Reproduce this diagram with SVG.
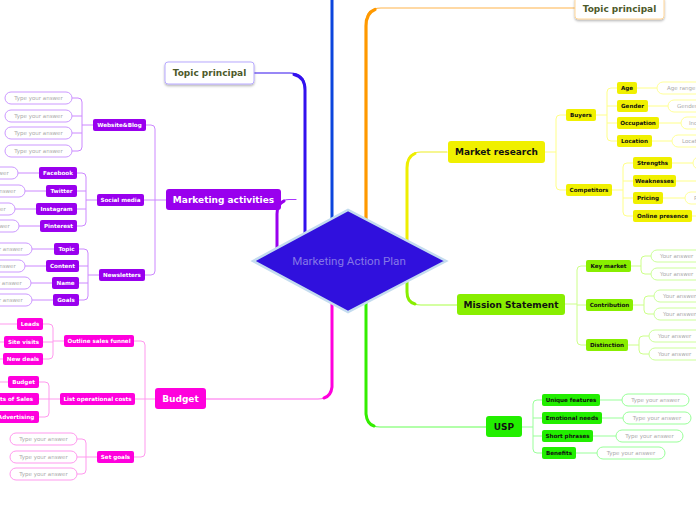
<svg xmlns="http://www.w3.org/2000/svg" width="696" height="520" viewBox="0 0 696 520">
<defs>
<filter id="sh" x="-20%" y="-30%" width="140%" height="170%"><feDropShadow dx="0" dy="1.5" stdDeviation="1" flood-color="#000" flood-opacity="0.3"/></filter>
<style>
.t1{font-family:"DejaVu Sans",Verdana,sans-serif;font-weight:bold;font-size:9px;text-anchor:middle}
.t2{font-family:"DejaVu Sans",Verdana,sans-serif;font-weight:bold;font-size:5.6px;text-anchor:middle}
.ta{font-family:"DejaVu Sans",Verdana,sans-serif;font-size:5.5px;fill:#aaaaaa;text-anchor:middle}
.ts{font-family:"DejaVu Sans",Verdana,sans-serif;font-size:5.5px;fill:#aaaaaa}
.w{fill:#ffffff}.k{fill:#111111}
.pu{fill:#9900ee}.mg{fill:#ff00dd}.ye{fill:#f0f000}.li{fill:#88ee00}.gr{fill:#22ee00}
.apu{fill:#fff;stroke:#cc99ff;stroke-width:1}
.amg{fill:#fff;stroke:#ff99ee;stroke-width:1}
.aye{fill:#fff;stroke:#ffff99;stroke-width:1}
.ali{fill:#fff;stroke:#ccff99;stroke-width:1}
.agr{fill:#fff;stroke:#99ff99;stroke-width:1}
.l{fill:none;stroke-width:1}
.lpu{stroke:#cc88ff}.lmg{stroke:#ff99ee}.lye{stroke:#ffff88}.lli{stroke:#ccff88}.lgr{stroke:#99ff99}
.m{fill:none;stroke-linecap:round}
</style>
</defs>
<rect width="696" height="520" fill="#ffffff"/>
<g id="connectors">
<!-- main branches -->
<path class="m" d="M254 73 H290 Q305 73 305 88 V236" stroke="#3311ee" stroke-width="1.2"/>
<path class="m" d="M294 74.5 Q305 77 305 90 V236" stroke="#3311ee" stroke-width="3"/>
<path class="m" d="M332 0 V222" stroke="#0b45dd" stroke-width="3"/>
<path class="m" d="M575 8 H381 Q366 8 366 23 V222" stroke="#ffb44a" stroke-width="1.2"/>
<path class="m" d="M375 9.5 Q366 13 366 26 V222" stroke="#ff9900" stroke-width="3.2"/>
<path class="m" d="M447 152 H421 Q407 152 407 166 V243" stroke="#eeee22" stroke-width="1.2"/>
<path class="m" d="M415 153.5 Q407 157 407 168 V243" stroke="#eeee00" stroke-width="3"/>
<path class="m" d="M407 279 V291 Q407 305 421 305 H457" stroke="#aaff44" stroke-width="1.2"/>
<path class="m" d="M407 279 V292 Q407 302 415 304" stroke="#88ee00" stroke-width="3"/>
<path class="m" d="M332 300 V385 Q332 399 318 399 H206" stroke="#ff66ee" stroke-width="1.2"/>
<path class="m" d="M332 300 V387 Q331 396 324 398" stroke="#ff00dd" stroke-width="3"/>
<path class="m" d="M366 300 V413 Q366 427 380 427 H486" stroke="#66ff55" stroke-width="1.2"/>
<path class="m" d="M366 300 V414 Q367 424 374 426" stroke="#33ee00" stroke-width="3"/>
<path class="m" d="M296 199.5 H289 Q277 200 277 213 V250" stroke="#aa33ff" stroke-width="1.2"/>
<path class="m" d="M284 201 Q277 204 277 214 V250" stroke="#9900ee" stroke-width="3"/>
<!-- purple -->
<path class="l lpu" d="M146 125 H151 Q155 125 155 129 V271 Q155 275 151 275 H145 M144 200 H166"/>
<path class="l lpu" d="M72 98 H78 Q82 98 82 102 V147 Q82 151 78 151 H72 M72 116 H82 M72 133 H82 M82 125 H93"/>
<path class="l lpu" d="M77 173 H82 Q86 173 86 177 V222 Q86 226 82 226 H77 M77 191 H86 M77 209 H86 M86 200 H97"/>
<path class="l lpu" d="M18 173 H39 M25 191 H46 M15 209 H36 M19 226 H40"/>
<path class="l lpu" d="M79 249 H84 Q88 249 88 253 V296 Q88 300 84 300 H79 M79 266 H88 M79 283 H88 M88 275 H99"/>
<path class="l lpu" d="M32 249 H54 M25 266 H46 M31 283 H52 M32 300 H53"/>
<!-- magenta -->
<path class="l lmg" d="M134 341 H141 Q145 341 145 345 V453 Q145 457 141 457 H134 M135 399 H155"/>
<path class="l lmg" d="M43 324 H49 Q53 324 53 328 V355 Q53 359 49 359 H43 M43 342 H53 M53 341 H64 M0 324 H17 M0 342 H4 M0 359 H3"/>
<path class="l lmg" d="M39 382 H45 Q49 382 49 386 V413 Q49 417 45 417 H39 M39 399 H60 M0 382 H8"/>
<path class="l lmg" d="M77 439 H82 Q86 439 86 443 V470 Q86 474 82 474 H77 M77 457 H97"/>
<!-- yellow -->
<path class="l lye" d="M545 152 H556 M566 115 H560 Q556 115 556 119 V186 Q556 190 560 190 H566"/>
<path class="l lye" d="M596 115 H607 M617 88 H611 Q607 88 607 92 V137 Q607 141 611 141 H617 M607 106 H617 M607 123 H617"/>
<path class="l lye" d="M637 88 H657 M648 106 H668 M659 123 H681 M652 141 H672"/>
<path class="l lye" d="M612 190 H623 M633 163 H627 Q623 163 623 167 V212 Q623 216 627 216 H633 M623 181 H633 M623 198 H633"/>
<path class="l lye" d="M672 163 H693 M676 181 H696 M663 198 H685 M692 216 H696"/>
<!-- lime -->
<path class="l lli" d="M565 304 H577 M586 266 H581 Q577 266 577 270 V341 Q577 345 581 345 H586 M577 305 H586"/>
<path class="l lli" d="M631 266 H641 M651 256 H645 Q641 256 641 260 V270 Q641 274 645 274 H651"/>
<path class="l lli" d="M633 305 H644 M654 296 H648 Q644 296 644 300 V310 Q644 314 648 314 H654"/>
<path class="l lli" d="M628 345 H639 M649 336 H643 Q639 336 639 340 V350 Q639 354 643 354 H649"/>
<!-- green -->
<path class="l lgr" d="M522 427 H533 M542 400 H537 Q533 400 533 404 V449 Q533 453 537 453 H542 M533 418 H542 M533 436 H542"/>
<path class="l lgr" d="M600 400 H622 M602 418 H623 M593 436 H616 M576 453 H597"/>
</g>

<g id="center">
<polygon points="253,261 348,210 446,261 348,312" fill="#3010dd" stroke="#c4dcef" stroke-width="2.5"/>
<text x="349" y="265" font-family="Roboto,'Noto Sans',sans-serif" font-size="11.6" fill="#8577e6" text-anchor="middle">Marketing Action Plan</text>
</g>

<g id="topic-left">
<rect x="165" y="62" width="89" height="22" rx="3" fill="#fff" stroke="#b8aaff" filter="url(#sh)"/>
<text class="t1" x="209.5" y="76.2" fill="#4d5a2a">Topic principal</text>
</g>
<g id="topic-right">
<rect x="575" y="-3" width="89" height="22" rx="3" fill="#fff" stroke="#ffd699" filter="url(#sh)"/>
<text class="t1" x="619.5" y="11.5" fill="#4d5a2a">Topic principal</text>
</g>

<!-- Marketing activities -->
<g id="marketing-activities">
<rect class="pu" x="166" y="189" width="115" height="21" rx="3"/>
<text class="t1 w" x="223.5" y="202.7">Marketing activities</text>
</g>
<g id="website-blog">
<rect class="pu" x="93" y="119" width="53" height="12" rx="2"/><text class="t2 w" x="119.5" y="127">Website&amp;Blog</text>
<rect class="apu" x="5" y="92" width="67" height="12" rx="6"/><text class="ta" x="38.5" y="100">Type your answer</text>
<rect class="apu" x="5" y="110" width="67" height="12" rx="6"/><text class="ta" x="38.5" y="118">Type your answer</text>
<rect class="apu" x="5" y="127" width="67" height="12" rx="6"/><text class="ta" x="38.5" y="135">Type your answer</text>
<rect class="apu" x="5" y="145" width="67" height="12" rx="6"/><text class="ta" x="38.5" y="153">Type your answer</text>
</g>
<g id="social-media">
<rect class="pu" x="97" y="194" width="47" height="12" rx="2"/><text class="t2 w" x="120.5" y="202">Social media</text>
<rect class="pu" x="39" y="167" width="38" height="12" rx="2"/><text class="t2 w" x="58" y="175">Facebook</text>
<rect class="pu" x="46" y="185" width="31" height="12" rx="2"/><text class="t2 w" x="61.5" y="193">Twitter</text>
<rect class="pu" x="36" y="203" width="41" height="12" rx="2"/><text class="t2 w" x="56.5" y="211">Instagram</text>
<rect class="pu" x="40" y="220" width="37" height="12" rx="2"/><text class="t2 w" x="58.5" y="228">Pinterest</text>
<rect class="apu" x="-49" y="167" width="67" height="12" rx="6"/><text class="ta" x="-15.5" y="175">Type your answer</text>
<rect class="apu" x="-42" y="185" width="67" height="12" rx="6"/><text class="ta" x="-8.5" y="193">Type your answer</text>
<rect class="apu" x="-52" y="203" width="67" height="12" rx="6"/><text class="ta" x="-18.5" y="211">Type your answer</text>
<rect class="apu" x="-48" y="220" width="67" height="12" rx="6"/><text class="ta" x="-14.5" y="228">Type your answer</text>
</g>
<g id="newsletters">
<rect class="pu" x="99" y="269" width="46" height="12" rx="2"/><text class="t2 w" x="122" y="277">Newsletters</text>
<rect class="pu" x="54" y="243" width="25" height="12" rx="2"/><text class="t2 w" x="66.5" y="251">Topic</text>
<rect class="pu" x="46" y="260" width="33" height="12" rx="2"/><text class="t2 w" x="62.5" y="268">Content</text>
<rect class="pu" x="52" y="277" width="27" height="12" rx="2"/><text class="t2 w" x="65.5" y="285">Name</text>
<rect class="pu" x="53" y="294" width="26" height="12" rx="2"/><text class="t2 w" x="66" y="302">Goals</text>
<rect class="apu" x="-35" y="243" width="67" height="12" rx="6"/><text class="ta" x="-1.5" y="251">Type your answer</text>
<rect class="apu" x="-42" y="260" width="67" height="12" rx="6"/><text class="ta" x="-8.5" y="268">Type your answer</text>
<rect class="apu" x="-36" y="277" width="67" height="12" rx="6"/><text class="ta" x="-2.5" y="285">Type your answer</text>
<rect class="apu" x="-35" y="294" width="67" height="12" rx="6"/><text class="ta" x="-1.5" y="302">Type your answer</text>
</g>

<!-- Budget -->
<g id="budget">
<rect class="mg" x="155" y="388" width="51" height="21" rx="3"/>
<text class="t1 w" x="180.5" y="401.7">Budget</text>
</g>
<g id="outline-sales-funnel">
<rect class="mg" x="64" y="335" width="70" height="12" rx="2"/><text class="t2 w" x="99" y="343">Outline sales funnel</text>
<rect class="mg" x="17" y="318" width="26" height="12" rx="2"/><text class="t2 w" x="30" y="326">Leads</text>
<rect class="mg" x="4" y="336" width="39" height="12" rx="2"/><text class="t2 w" x="23.5" y="344">Site visits</text>
<rect class="mg" x="3" y="353" width="40" height="12" rx="2"/><text class="t2 w" x="23" y="361">New deals</text>
</g>
<g id="list-operational-costs">
<rect class="mg" x="60" y="393" width="75" height="12" rx="2"/><text class="t2 w" x="97.5" y="401">List operational costs</text>
<rect class="mg" x="8" y="376" width="31" height="12" rx="2"/><text class="t2 w" x="23.5" y="384">Budget</text>
<rect class="mg" x="-14" y="393" width="53" height="12" rx="2"/><text class="t2 w" x="33" y="401" style="text-anchor:end">Costs of Sales</text>
<rect class="mg" x="-8" y="411" width="47" height="12" rx="2"/><text class="t2 w" x="16" y="419">Advertising</text>
</g>
<g id="set-goals">
<rect class="mg" x="97" y="451" width="37" height="12" rx="2"/><text class="t2 w" x="115.5" y="459">Set goals</text>
<rect class="amg" x="10" y="433" width="67" height="12" rx="6"/><text class="ta" x="43.5" y="441">Type your answer</text>
<rect class="amg" x="10" y="451" width="67" height="12" rx="6"/><text class="ta" x="43.5" y="459">Type your answer</text>
<rect class="amg" x="10" y="468" width="67" height="12" rx="6"/><text class="ta" x="43.5" y="476">Type your answer</text>
</g>

<!-- Market research -->
<g id="market-research">
<rect class="ye" x="448" y="141" width="97" height="22" rx="3"/>
<text class="t1 k" x="496.5" y="155.2">Market research</text>
</g>
<g id="buyers">
<rect class="ye" x="566" y="109" width="30" height="12" rx="2"/><text class="t2 k" x="581" y="117">Buyers</text>
<rect class="ye" x="617" y="82" width="20" height="12" rx="2"/><text class="t2 k" x="627" y="90">Age</text>
<rect class="ye" x="617" y="100" width="31" height="12" rx="2"/><text class="t2 k" x="632.5" y="108">Gender</text>
<rect class="ye" x="617" y="117" width="42" height="12" rx="2"/><text class="t2 k" x="638" y="125">Occupation</text>
<rect class="ye" x="617" y="135" width="35" height="12" rx="2"/><text class="t2 k" x="634.5" y="143">Location</text>
<rect class="aye" x="657" y="82" width="60" height="12" rx="6"/><text class="ts" x="667" y="90">Age range</text>
<rect class="aye" x="668" y="100" width="60" height="12" rx="6"/><text class="ts" x="677" y="108">Gender</text>
<rect class="aye" x="681" y="117" width="60" height="12" rx="6"/><text class="ts" x="689" y="125">Income</text>
<rect class="aye" x="672" y="135" width="60" height="12" rx="6"/><text class="ts" x="682" y="143">Location</text>
</g>
<g id="competitors">
<rect class="ye" x="566" y="184" width="46" height="12" rx="2"/><text class="t2 k" x="589" y="192">Competitors</text>
<rect class="ye" x="633" y="157" width="39" height="12" rx="2"/><text class="t2 k" x="652.5" y="165">Strengths</text>
<rect class="ye" x="633" y="175" width="43" height="12" rx="2"/><text class="t2 k" x="654.5" y="183">Weaknesses</text>
<rect class="ye" x="633" y="192" width="30" height="12" rx="2"/><text class="t2 k" x="648" y="200">Pricing</text>
<rect class="ye" x="633" y="210" width="59" height="12" rx="2"/><text class="t2 k" x="662.5" y="218">Online presence</text>
<rect class="aye" x="693" y="157" width="60" height="12" rx="6"/>
<rect class="aye" x="685" y="192" width="60" height="12" rx="6"/><text class="ts" x="694" y="200">Price</text>
</g>

<!-- Mission Statement -->
<g id="mission-statement">
<rect class="li" x="457" y="294" width="108" height="21" rx="3"/>
<text class="t1 k" x="511" y="307.7">Mission Statement</text>
</g>
<g id="key-market">
<rect class="li" x="586" y="260" width="45" height="12" rx="2"/><text class="t2 k" x="608.5" y="268">Key market</text>
<rect class="ali" x="651" y="250" width="55" height="12" rx="6"/><text class="ts" x="660" y="258">Your answer</text>
<rect class="ali" x="651" y="268" width="55" height="12" rx="6"/><text class="ts" x="660" y="276">Your answer</text>
</g>
<g id="contribution">
<rect class="li" x="586" y="299" width="47" height="12" rx="2"/><text class="t2 k" x="609.5" y="307">Contribution</text>
<rect class="ali" x="654" y="290" width="55" height="12" rx="6"/><text class="ts" x="663" y="298">Your answer</text>
<rect class="ali" x="654" y="308" width="55" height="12" rx="6"/><text class="ts" x="663" y="316">Your answer</text>
</g>
<g id="distinction">
<rect class="li" x="586" y="339" width="42" height="12" rx="2"/><text class="t2 k" x="607" y="347">Distinction</text>
<rect class="ali" x="649" y="330" width="55" height="12" rx="6"/><text class="ts" x="658" y="338">Your answer</text>
<rect class="ali" x="649" y="348" width="55" height="12" rx="6"/><text class="ts" x="658" y="356">Your answer</text>
</g>

<!-- USP -->
<g id="usp">
<rect class="gr" x="486" y="416" width="36" height="21" rx="3"/>
<text class="t1 k" x="504" y="429.7">USP</text>
</g>
<g id="usp-items">
<rect class="gr" x="542" y="394" width="58" height="12" rx="2"/><text class="t2 k" x="571" y="402">Unique features</text>
<rect class="gr" x="542" y="412" width="60" height="12" rx="2"/><text class="t2 k" x="572" y="420">Emotional needs</text>
<rect class="gr" x="542" y="430" width="51" height="12" rx="2"/><text class="t2 k" x="567.5" y="438">Short phrases</text>
<rect class="gr" x="542" y="447" width="34" height="12" rx="2"/><text class="t2 k" x="559" y="455">Benefits</text>
<rect class="agr" x="622" y="394" width="67" height="12" rx="6"/><text class="ta" x="655.5" y="402">Type your answer</text>
<rect class="agr" x="623" y="412" width="68" height="12" rx="6"/><text class="ta" x="657" y="420">Type your answer</text>
<rect class="agr" x="616" y="430" width="67" height="12" rx="6"/><text class="ta" x="649.5" y="438">Type your answer</text>
<rect class="agr" x="597" y="447" width="68" height="12" rx="6"/><text class="ta" x="631" y="455">Type your answer</text>
</g>
</svg>
